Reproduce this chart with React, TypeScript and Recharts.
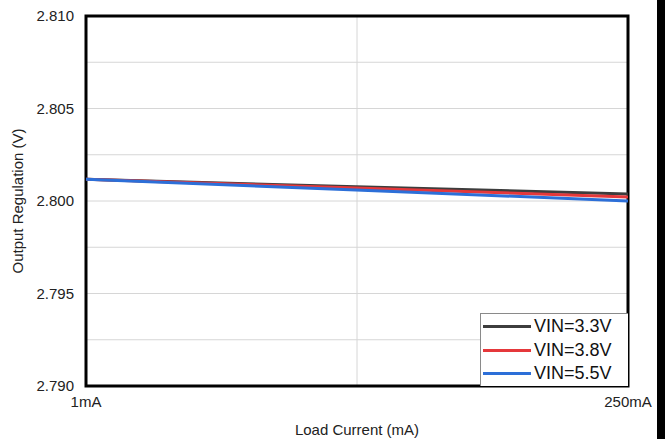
import {
  CartesianGrid,
  Line,
  LineChart,
  ReferenceArea,
  XAxis,
  YAxis,
} from "recharts";

// load current (mA) and output voltage per input voltage
const currents = [1, 125, 250];
const vin33 = [2.80117, 2.80077, 2.80038];
const vin38 = [2.80117, 2.8007, 2.80022];
const vin55 = [2.80117, 2.8006, 2.8];

const yTicks = [2.79, 2.795, 2.8, 2.805, 2.81];
const xTicks = [1, 250];
const gridY = [2.7925, 2.795, 2.7975, 2.8, 2.8025, 2.805, 2.8075];
const gridX = [125.5];

const series = [
  { key: "v33", name: "VIN=3.3V", color: "#3d3d3d" },
  { key: "v38", name: "VIN=3.8V", color: "#e5383b" },
  { key: "v55", name: "VIN=5.5V", color: "#2c6fd8" },
];

const data = currents.map((c, i) => ({
  current: c,
  v33: vin33[i],
  v38: vin38[i],
  v55: vin55[i],
}));

const font = "'Liberation Sans', Arial, sans-serif";

const LegendBox = () => (
  <div
    style={{
      position: "absolute",
      left: 480,
      top: 313,
      width: 148,
      height: 73,
      border: "1px solid #8a8a8a",
      borderRight: "none",
      borderBottom: "none",
      background: "#fff",
      boxSizing: "border-box",
      paddingTop: 1,
    }}
  >
    {series.map((s) => (
      <div
        key={s.key}
        style={{ display: "flex", alignItems: "center", height: 23.5 }}
      >
        <div
          style={{
            width: 48,
            height: 3,
            background: s.color,
            marginLeft: 2,
            marginRight: 3,
          }}
        />
        <span style={{ fontFamily: font, fontSize: 18, color: "#111" }}>
          {s.name}
        </span>
      </div>
    ))}
  </div>
);

const App = () => {
  return (
    <div
      style={{
        position: "absolute",
        top: 0,
        left: 0,
        width: 672,
        height: 439,
        background: "#fff",
        overflow: "hidden",
      }}
    >
      <LineChart
        width={672}
        height={439}
        data={data}
        margin={{ top: 16, right: 44, bottom: 0, left: 0 }}
      >
        <CartesianGrid
          stroke="#d6d6d6"
          horizontalValues={gridY}
          verticalValues={gridX}
        />
        <XAxis
          dataKey="current"
          type="number"
          domain={[1, 250]}
          ticks={xTicks}
          tickFormatter={(v) => `${v}mA`}
          height={53}
          axisLine={false}
          tickLine={false}
          tick={{ fill: "#222", fontSize: 15, fontFamily: font }}
          tickMargin={4}
          label={{
            value: "Load Current (mA)",
            position: "insideBottom",
            offset: 4,
            style: { fill: "#222", fontSize: 15, fontFamily: font },
          }}
        />
        <YAxis
          type="number"
          domain={[2.79, 2.81]}
          ticks={yTicks}
          tickFormatter={(v) => v.toFixed(3)}
          width={86}
          axisLine={false}
          tickLine={false}
          tickMargin={6}
          tick={{ fill: "#222", fontSize: 15, fontFamily: font }}
          label={{
            value: "Output Regulation (V)",
            angle: -90,
            position: "insideLeft",
            offset: 18,
            style: { fill: "#222", fontSize: 15, fontFamily: font, textAnchor: "middle" },
          }}
        />
        {series.map((s) => (
          <Line
            key={s.key}
            dataKey={s.key}
            name={s.name}
            stroke={s.color}
            strokeWidth={3}
            dot={false}
            isAnimationActive={false}
          />
        ))}
        <ReferenceArea
          x1={1}
          x2={250}
          y1={2.79}
          y2={2.81}
          fill="none"
          stroke="#000"
          strokeWidth={3}
        />
      </LineChart>
      <LegendBox />
      <div
        style={{
          position: "absolute",
          left: 657,
          top: 0,
          width: 8,
          height: 439,
          background: "#000",
        }}
      />
    </div>
  );
};

export default App;
